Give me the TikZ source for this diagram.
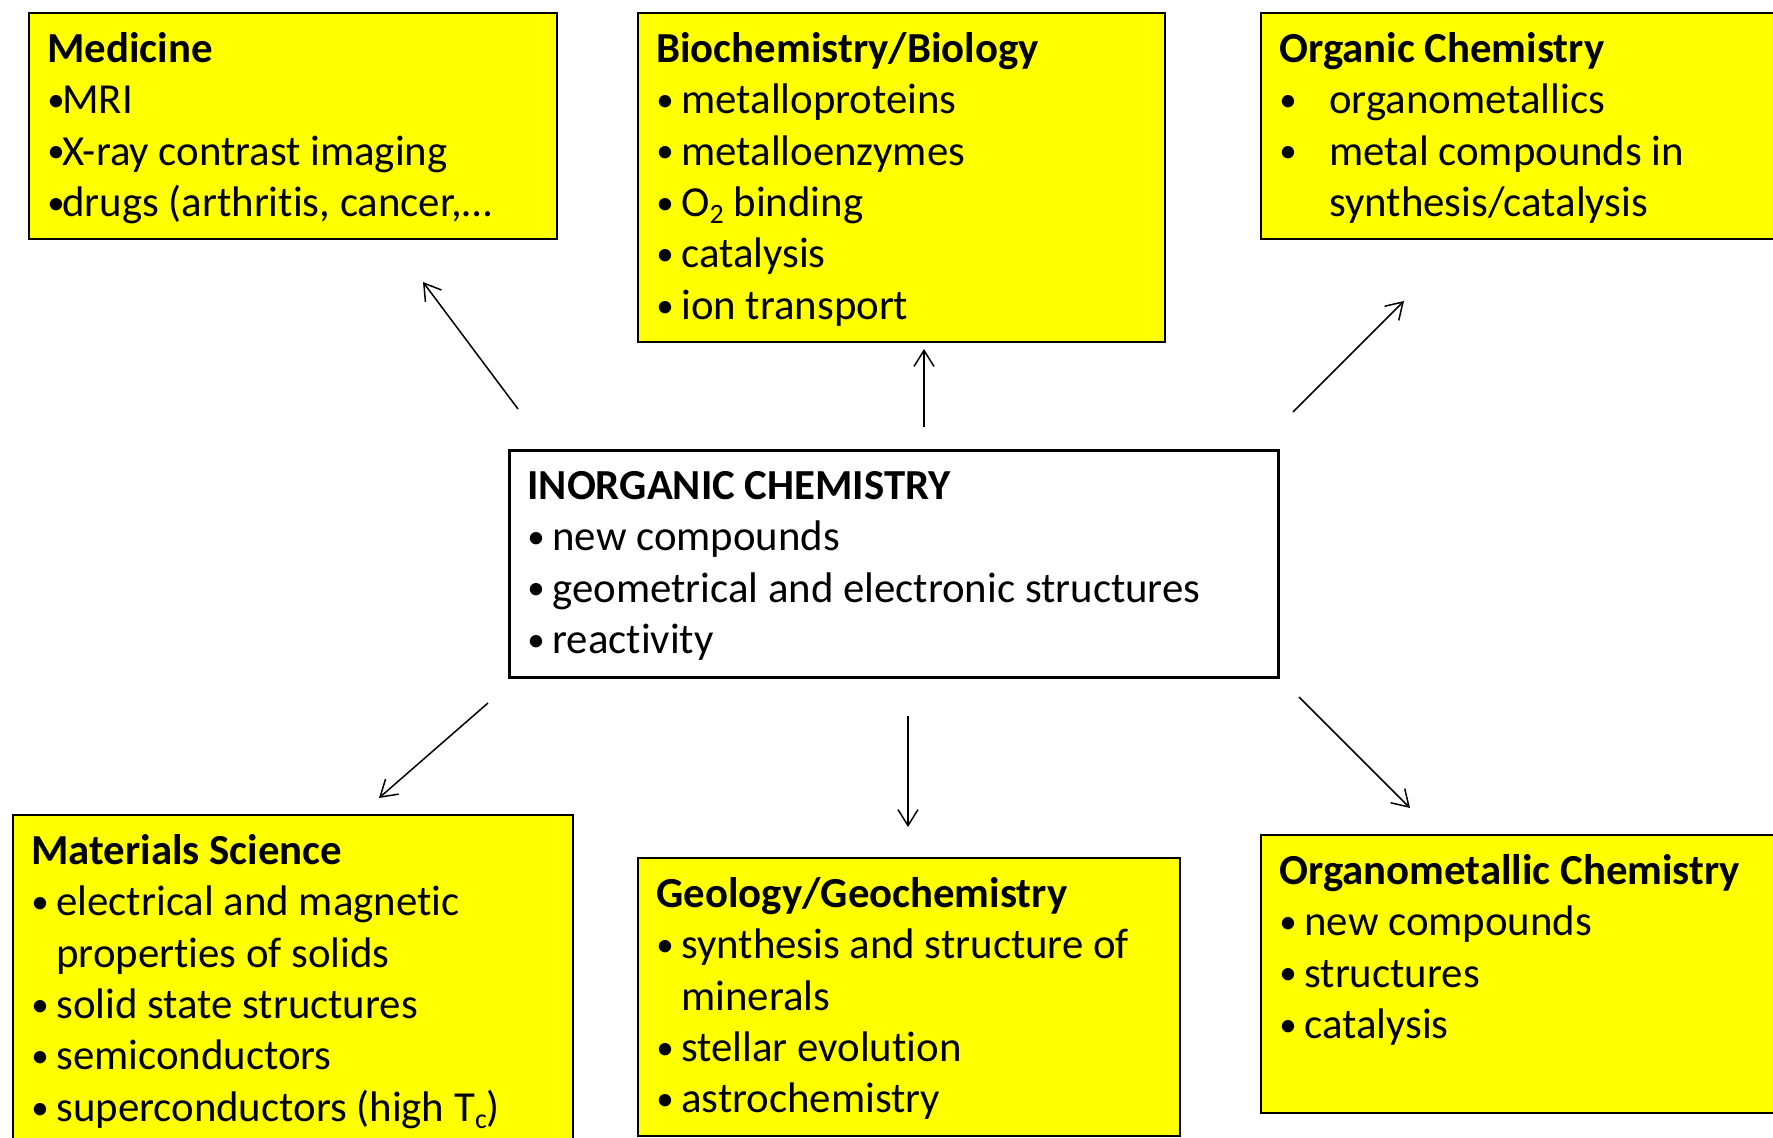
\documentclass[tikz,border=0pt]{standalone}
\usepackage{fontspec}
\setmainfont{Carlito}[Ligatures=NoCommon]
\usetikzlibrary{calc,arrows.meta}
\definecolor{fieldyellow}{RGB}{255,255,0}
\newcommand{\bul}{\makebox[7.5pt][l]{\raisebox{1.1pt}{\fontsize{17.5}{17.5}\selectfont •}}}
\newcommand{\lowidx}[1]{\raisebox{-3.5pt}{\fontsize{14}{14}\selectfont #1}}

\begin{document}
\begin{tikzpicture}[
    x=0.5pt, y=-0.5pt,
    font=\fontsize{21.4}{25.7}\selectfont,
    field/.style={rectangle, draw=black, line width=1pt, fill=fieldyellow, anchor=north west, inner sep=0pt},
    core/.style={field, fill=white, line width=1.3pt},
    fieldtext/.style={anchor=north west, inner sep=0pt, align=left},
    link/.style={-{Straight Barb[length=8pt,width=10pt]}, line width=0.75pt}
]
\useasboundingbox (0,0) rectangle (1773,1137);

% boxes
\node[field, minimum width=264pt, minimum height=113pt] (Medicine) at (28,12) {};
\node[field, minimum width=263.5pt, minimum height=164.5pt] (Biochem) at (637,12) {};
\node[field, minimum width=270pt, minimum height=113pt] (Organic) at (1260,12) {};
\node[core, minimum width=384.5pt, minimum height=113.5pt] (Inorganic) at (508,449) {};
\node[field, minimum width=280pt, minimum height=173pt] (Materials) at (12,814) {};
\node[field, minimum width=271pt, minimum height=139pt] (Geology) at (637,857) {};
\node[field, minimum width=270pt, minimum height=139pt] (Organomet) at (1260,834) {};

% texts
\node[fieldtext] (MedicineText) at ($(Medicine.north west)+(19,14)$) {%
\begin{tabular}{@{}l@{}}
\textbf{Medicine}\\
\bul MRI\\
\bul X-ray contrast imaging\\
\bul drugs (arthritis, cancer,…
\end{tabular}};

\node[fieldtext] (BiochemText) at ($(Biochem.north west)+(19,14)$) {%
\begin{tabular}{@{}l@{\hspace{5pt}}l@{}}
\multicolumn{2}{@{}l@{}}{\textbf{Biochemistry/Biology}}\\
\bul & metalloproteins\\
\bul & metalloenzymes\\
\bul & O\lowidx{2} binding\\
\bul & catalysis\\
\bul & ion transport
\end{tabular}};

\node[fieldtext] (OrganicText) at ($(Organic.north west)+(19,14)$) {%
\begin{tabular}{@{}l@{\hspace{17.5pt}}l@{}}
\multicolumn{2}{@{}l@{}}{\textbf{Organic Chemistry}}\\
\bul & organometallics\\
\bul & metal compounds in\\
     & synthesis/catalysis
\end{tabular}};

\node[fieldtext] (InorganicText) at ($(Inorganic.north west)+(19,14)$) {%
\begin{tabular}{@{}l@{\hspace{5pt}}l@{}}
\multicolumn{2}{@{}l@{}}{\textbf{INORGANIC CHEMISTRY}}\\
\bul & new compounds\\
\bul & geometrical and electronic structures\\
\bul & reactivity
\end{tabular}};

\node[fieldtext] (MaterialsText) at ($(Materials.north west)+(19,14)$) {%
\begin{tabular}{@{}l@{\hspace{5pt}}l@{}}
\multicolumn{2}{@{}l@{}}{\textbf{Materials Science}}\\
\bul & electrical and magnetic\\
     & properties of solids\\
\bul & solid state structures\\
\bul & semiconductors\\
\bul & superconductors (high T\lowidx{c})
\end{tabular}};

\node[fieldtext] (GeologyText) at ($(Geology.north west)+(19,14)$) {%
\begin{tabular}{@{}l@{\hspace{5pt}}l@{}}
\multicolumn{2}{@{}l@{}}{\textbf{Geology/Geochemistry}}\\
\bul & synthesis and structure of\\
     & minerals\\
\bul & stellar evolution\\
\bul & astrochemistry
\end{tabular}};

\node[fieldtext] (OrganometText) at ($(Organomet.north west)+(19,14)$) {%
\begin{tabular}{@{}l@{\hspace{5pt}}l@{}}
\multicolumn{2}{@{}l@{}}{\textbf{Organometallic Chemistry}}\\
\bul & new compounds\\
\bul & structures\\
\bul & catalysis
\end{tabular}};

% arrow ends
\coordinate (toMedicine) at (518,409);
\coordinate (atMedicine) at (423,282);
\coordinate (toBiochem) at (924,427);
\coordinate (atBiochem) at (924,349);
\coordinate (toOrganic) at (1293,412);
\coordinate (atOrganic) at (1404,301);
\coordinate (toMaterials) at (488,703);
\coordinate (atMaterials) at (379,798);
\coordinate (toGeology) at (908,716);
\coordinate (atGeology) at (908,827);
\coordinate (toOrganomet) at (1299,697);
\coordinate (atOrganomet) at (1410,808);

\draw[link] (toMedicine) -- (atMedicine);
\draw[link] (toBiochem) -- (atBiochem);
\draw[link] (toOrganic) -- (atOrganic);
\draw[link] (toMaterials) -- (atMaterials);
\draw[link] (toGeology) -- (atGeology);
\draw[link] (toOrganomet) -- (atOrganomet);
\end{tikzpicture}
\end{document}
